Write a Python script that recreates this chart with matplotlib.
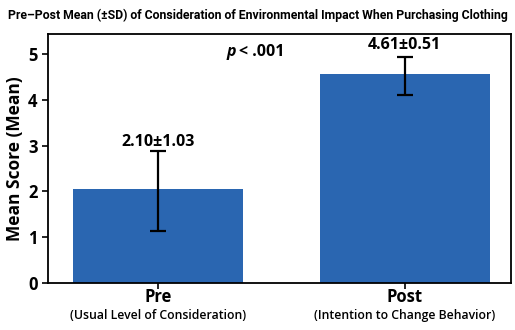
import matplotlib
matplotlib.use("Agg")
import matplotlib.pyplot as plt
import matplotlib.transforms as mtransforms

# data
groups = ["Pre", "Post"]
group_notes = ["(Usual Level of Consideration)", "(Intention to Change Behavior)"]
bar_heights = [2.05, 4.56]
err_low = [1.14, 4.11]
err_high = [2.87, 4.93]
value_labels = ["2.10\u00b11.03", "4.61\u00b10.51"]
p_text = "< .001"

BAR_COLOR = "#2a66b1"

plt.rcParams["font.family"] = ["Open Sans", "DejaVu Sans"]

fig = plt.figure(figsize=(5.15, 3.30), dpi=100)
ax = fig.add_axes([0.0932, 0.1433, 0.8990, 0.7537])

x = list(range(len(groups)))
yerr = [[h - lo for h, lo in zip(bar_heights, err_low)],
        [hi - h for h, hi in zip(bar_heights, err_high)]]
ax.bar(x, bar_heights, width=0.69, color=BAR_COLOR, zorder=2)
ax.errorbar(x, bar_heights, yerr=yerr, fmt="none", ecolor="black",
            elinewidth=1.6, capsize=5.8, capthick=1.6, zorder=3)

# mean±sd annotations
label_y = [3.07, 5.19]
for xi, ly, txt in zip(x, label_y, value_labels):
    ax.text(xi, ly, txt, ha="center", va="center", fontsize=11.5,
            fontweight="bold")

ax.text(0.28, 5.05, "p", style="italic", ha="left", va="center",
        fontsize=11.5, fontweight="bold")
ax.text(0.33, 5.05, p_text, ha="left", va="center", fontsize=11.5,
        fontweight="bold")

ax.set_xlim(-0.445, 1.43)
ax.set_ylim(0, 5.44)
ax.set_yticks(range(6))
ax.set_yticklabels([str(v) for v in range(6)], fontsize=12, fontweight="bold")
ax.set_xticks(x)
ax.set_xticklabels([])
ax.tick_params(axis="both", direction="out", length=4, width=1.2)
for s in ax.spines.values():
    s.set_linewidth(1.3)

trans = mtransforms.blended_transform_factory(ax.transData, fig.transFigure)
for xi, g, note in zip(x, groups, group_notes):
    ax.text(xi, 0.100, g, transform=trans, ha="center", va="center",
            fontsize=12, fontweight="bold")
    ax.text(xi, 0.043, note, transform=trans, ha="center", va="center",
            fontsize=8.8, fontweight="semibold")

ax.set_ylabel("Mean Score (Mean)", fontsize=12.5, fontweight="bold", labelpad=3)

fig.text(0.5, 0.952, "Pre\u2013Post Mean (\u00b1SD) of Consideration of Environmental Impact When Purchasing Clothing",
         ha="center", va="center", fontsize=8.8, fontweight="semibold",
         family=["Roboto", "DejaVu Sans"])

fig.savefig("out.png", dpi=100)
